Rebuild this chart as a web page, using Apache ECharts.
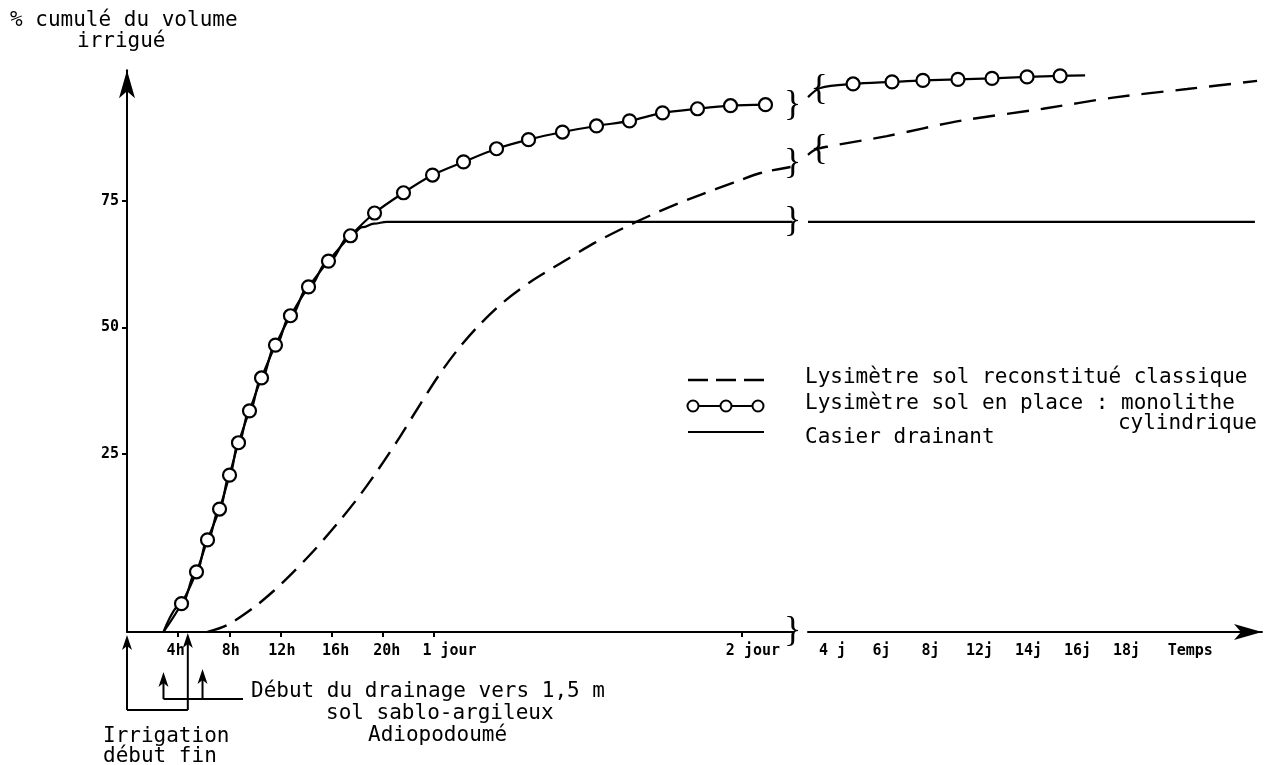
<!DOCTYPE html>
<html><head><meta charset="utf-8">
<script src="https://cdn.jsdelivr.net/npm/echarts@6/dist/echarts.min.js"></script>
<style>html,body{margin:0;padding:0;background:#fff}#c{width:1273px;height:765px}</style>
</head><body><div id="c"></div>
<script>
// ---------- axis ticks / labels ----------
const yTickValues = [25, 50, 75];
const yTickLabels = ['25', '50', '75'];
const hourTicks = [4, 8, 12, 16, 20, 24, 48];
const hourLabelPos = [3.8, 8.1, 12.1, 16.3, 20.3, 25.2, 48.9];
const hourLabels = ['4h', '8h', '12h', '16h', '20h', '1 jour', '2 jour'];
const dayLabelPos = [4, 6, 8, 10, 12, 14, 16, 18.6];
const dayLabels = ['4 j', '6j', '8j', '12j', '14j', '16j', '18j', 'Temps'];

// ---------- Lysimètre sol en place : monolithe cylindrique (circles) ----------
const circleStartLeft = [2.85, -10.2];
const circleHours = [4.26, 5.43, 6.29, 7.23, 8.01, 8.71, 9.57, 10.51, 11.60, 12.77, 14.18, 15.74, 17.46, 19.34, 21.60, 23.87, 26.29, 28.87, 31.37, 34.02, 36.68, 39.26, 41.84, 44.57, 47.15, 49.88];
const circleValues = [-4.6, 1.7, 8.0, 14.1, 20.8, 27.2, 33.5, 40.0, 46.5, 52.3, 58.0, 63.1, 68.1, 72.6, 76.6, 80.1, 82.7, 85.3, 87.1, 88.6, 89.8, 90.8, 92.4, 93.2, 93.8, 94.0];
const circleLineRightStartDays = [3.0, 3.5];
const circleLineRightStartValues = [95.5, 97.3];
const circleDays = [4.84, 6.43, 7.69, 9.12, 10.51, 11.94, 13.29];
const circleDayValues = [98.1, 98.5, 98.8, 99.0, 99.2, 99.5, 99.7];
const circleLineRightEnd = [14.31, 99.8];

// ---------- Lysimètre sol reconstitué classique (dashed) ----------
const dashedHours = [6.29, 7.85, 9.88, 11.45, 13.01, 14.57, 16.45, 18.01, 19.57, 21.13, 22.93, 24.49, 25.90, 27.38, 29.41, 31.76, 34.10, 36.45, 39.57, 42.23, 44.80, 47.38, 49.49, 51.84];
const dashedValues = [-10.2, -8.8, -5.4, -2.1, 1.7, 5.8, 11.3, 16.2, 21.7, 27.6, 34.9, 41.0, 45.8, 50.1, 55.0, 59.4, 63.0, 66.6, 70.6, 73.6, 76.2, 78.6, 80.5, 81.7];
const dashedDays = [3.0, 3.29, 3.78, 6.22, 9.2, 12.59, 15.45, 18.47, 21.33];
const dashedDayValues = [84.1, 85.1, 85.7, 87.8, 90.8, 93.2, 95.4, 97.1, 98.7];

// ---------- Casier drainant (solid) ----------
const solidHours = [2.85, 4.26, 5.43, 6.29, 7.23, 8.01, 8.71, 9.57, 10.51, 11.60, 12.77, 14.18, 15.74, 17.46, 18.4, 19.3, 20.3, 52];
const solidValues = [-10.2, -4.6, 1.7, 8.0, 14.1, 20.8, 27.2, 33.5, 40.0, 46.5, 52.3, 58.0, 63.1, 68.1, 69.8, 70.5, 70.85, 70.85];
const solidDays = [3.0, 21.24];
const solidDayValues = [70.85, 70.85];

// ---------- axis break marks ----------
const breakHour = 52;
const breakLeftValues = { axis: -10.2, solid: 70.85, dashed: 82.3, circle: 93.8 };
const breakRightDays = { axis: 2.93, solid: 2.93, dashed: 3.45, circle: 3.45 };
const breakRightValues = { axis: -10.2, solid: 70.85, dashed: 85.1, circle: 96.9 };

// ---------- annotations ----------
const irrigationHours = [0, 4.75];
const drainageHours = [2.85, 5.9];

const zip = (a, b) => a.map((v, i) => [v, b[i]]);
const MONO = '"DejaVu Sans Mono"';
const tickFont = { fontFamily: MONO, fontWeight: 'bold', fontSize: 15, color: '#000' };

function pickLabel(pos, labels) {
  return function (v) {
    for (let i = 0; i < pos.length; i++) if (Math.abs(pos[i] - v) < 1e-6) return labels[i];
    return '';
  };
}
function brace(ch, coord) {
  return {
    coord: coord, symbol: 'circle', symbolSize: 1,
    itemStyle: { color: 'rgba(0,0,0,0)' },
    label: { show: true, position: 'inside', formatter: ch, color: '#000', fontSize: 36, fontFamily: '"Liberation Serif"' }
  };
}
function bracesMP(items) {
  return { silent: true, symbol: 'circle', symbolSize: 1, data: items, animation: false };
}

const YMIN = -10.2, YMAX = 100.8;
const option = {
  animation: false,
  backgroundColor: '#fff',
  grid: [
    { left: 127, top: 70.3, width: 665.6, height: 561.7 },
    { left: 808, top: 70.3, width: 454, height: 561.7 }
  ],
  xAxis: [
    {
      type: 'value', gridIndex: 0, min: 0, max: 52,
      axisLine: { show: true, onZero: false, lineStyle: { color: '#000', width: 2 } },
      axisTick: { show: true, inside: false, length: 5, customValues: hourTicks, lineStyle: { color: '#000', width: 2 } },
      axisLabel: Object.assign({ customValues: hourLabelPos, margin: 12, formatter: pickLabel(hourLabelPos, hourLabels) }, tickFont),
      splitLine: { show: false }
    },
    {
      type: 'value', gridIndex: 1, min: 3, max: 21.53,
      axisLine: { show: true, onZero: false, symbol: ['none', 'arrow'], symbolSize: [12, 28], symbolOffset: [0, 0], lineStyle: { color: '#000', width: 2 } },
      axisTick: { show: false },
      axisLabel: Object.assign({ customValues: dayLabelPos, margin: 12, formatter: pickLabel(dayLabelPos, dayLabels) }, tickFont),
      splitLine: { show: false }
    }
  ],
  yAxis: [
    {
      type: 'value', gridIndex: 0, min: YMIN, max: YMAX,
      axisLine: { show: true, onZero: false, symbol: ['none', 'arrow'], symbolSize: [12, 28], symbolOffset: [0, 0], lineStyle: { color: '#000', width: 2 } },
      axisTick: { show: true, inside: false, length: 5, customValues: yTickValues, lineStyle: { color: '#000', width: 2 } },
      axisLabel: Object.assign({ customValues: yTickValues, margin: 8, formatter: pickLabel(yTickValues, yTickLabels) }, tickFont),
      splitLine: { show: false }
    },
    {
      type: 'value', gridIndex: 1, min: YMIN, max: YMAX, show: false,
      splitLine: { show: false }
    }
  ],
  series: [
    {
      name: 'Lysimètre sol reconstitué classique', type: 'line', xAxisIndex: 0, yAxisIndex: 0,
      data: zip(dashedHours, dashedValues), showSymbol: false, smooth: 0.3, clip: false,
      lineStyle: { color: '#000', width: 2.4, type: [20, 10] },
      markPoint: bracesMP([brace('}', [breakHour, breakLeftValues.dashed])])
    },
    {
      name: 'Lysimètre sol reconstitué classique (suite)', type: 'line', xAxisIndex: 1, yAxisIndex: 1,
      data: zip(dashedDays, dashedDayValues), showSymbol: false, smooth: 0.3, clip: false,
      lineStyle: { color: '#000', width: 2.4, type: [22, 12] },
      markPoint: bracesMP([brace('{', [breakRightDays.dashed, breakRightValues.dashed])])
    },
    {
      name: 'Casier drainant', type: 'line', xAxisIndex: 0, yAxisIndex: 0,
      data: zip(solidHours, solidValues), showSymbol: false, smooth: 0.4, smoothMonotone: 'x', clip: false,
      lineStyle: { color: '#000', width: 2.2 },
      markPoint: bracesMP([brace('}', [breakHour, breakLeftValues.solid]), brace('}', [breakHour, breakLeftValues.axis])])
    },
    {
      name: 'Casier drainant (suite)', type: 'line', xAxisIndex: 1, yAxisIndex: 1,
      data: zip(solidDays, solidDayValues), showSymbol: false, clip: false,
      lineStyle: { color: '#000', width: 2.2 },
      markPoint: bracesMP([brace('{', [breakRightDays.solid, breakRightValues.solid]), brace('{', [breakRightDays.axis, breakRightValues.axis])])
    },
    {
      name: 'Lysimètre sol en place : monolithe cylindrique', type: 'line', xAxisIndex: 0, yAxisIndex: 0,
      data: [circleStartLeft].concat(zip(circleHours, circleValues)), showSymbol: false, smooth: 0.3, clip: false,
      lineStyle: { color: '#000', width: 2.2 },
      markPoint: bracesMP([brace('}', [breakHour, breakLeftValues.circle])])
    },
    {
      name: 'monolithe (points)', type: 'scatter', xAxisIndex: 0, yAxisIndex: 0, z: 5,
      data: zip(circleHours, circleValues), symbol: 'circle', symbolSize: 13, clip: false,
      itemStyle: { color: '#fff', borderColor: '#000', borderWidth: 2.2, opacity: 1 }
    },
    {
      name: 'monolithe (suite)', type: 'line', xAxisIndex: 1, yAxisIndex: 1,
      data: zip(circleLineRightStartDays, circleLineRightStartValues).concat(zip(circleDays, circleDayValues), [circleLineRightEnd]),
      showSymbol: false, smooth: 0.3, clip: false,
      lineStyle: { color: '#000', width: 2.2 },
      markPoint: bracesMP([brace('{', [breakRightDays.circle, breakRightValues.circle])])
    },
    {
      name: 'monolithe (suite, points)', type: 'scatter', xAxisIndex: 1, yAxisIndex: 1, z: 5,
      data: zip(circleDays, circleDayValues), symbol: 'circle', symbolSize: 13, clip: false,
      itemStyle: { color: '#fff', borderColor: '#000', borderWidth: 2.2, opacity: 1 }
    }
  ]
};

const chart = echarts.init(document.getElementById('c'), null, { renderer: 'canvas' });
chart.setOption(option);

// ---------- graphic: titles, legend, annotations ----------
const px = h => chart.convertToPixel({ xAxisIndex: 0 }, h);
const axisY = chart.convertToPixel({ yAxisIndex: 0 }, YMIN);
const T = (text, x, y, extra) => ({ type: 'text', silent: true, style: Object.assign({ text: text, x: x, y: y, font: '21px ' + MONO, fill: '#000', verticalAlign: 'middle', align: 'left' }, extra || {}) });
const L = (x1, y1, x2, y2, extra) => ({ type: 'line', silent: true, shape: { x1, y1, x2, y2 }, style: Object.assign({ stroke: '#000', lineWidth: 2 }, extra || {}) });
const head = (x, tipY) => ({ type: 'polygon', silent: true, shape: { points: [[x, tipY], [x - 5, tipY + 15], [x, tipY + 11], [x + 5, tipY + 15]] }, style: { fill: '#000' } });

const xi0 = px(irrigationHours[0]), xi1 = px(irrigationHours[1]);
const xd0 = px(drainageHours[0]), xd1 = px(drainageHours[1]);
const g = [
  T('% cumulé du volume', 10, 21),
  T('irrigué', 77, 42),
  // legend
  L(688, 380, 764, 380, { lineDash: [20, 8], lineWidth: 2.4 }),
  L(693, 406, 758, 406),
  { type: 'circle', silent: true, shape: { cx: 693, cy: 406, r: 5.5 }, style: { fill: '#fff', stroke: '#000', lineWidth: 2 } },
  { type: 'circle', silent: true, shape: { cx: 726, cy: 406, r: 5.5 }, style: { fill: '#fff', stroke: '#000', lineWidth: 2 } },
  { type: 'circle', silent: true, shape: { cx: 758, cy: 406, r: 5.5 }, style: { fill: '#fff', stroke: '#000', lineWidth: 2 } },
  L(688, 432, 764, 432),
  T('Lysimètre sol reconstitué classique', 805, 378),
  T('Lysimètre sol en place : monolithe', 805, 404),
  T('cylindrique', 1257, 424, { align: 'right' }),
  T('Casier drainant', 805, 438),
  // irrigation bracket
  L(xi0, 710, xi0, axisY + 8),
  L(xi1, 710, xi1, axisY + 8),
  L(xi0, 710, xi1, 710),
  head(xi0, axisY + 3),
  head(xi1, axisY + 1),
  // drainage start
  L(xd0, 699, xd0, 682),
  L(xd1, 699, xd1, 679),
  L(xd0, 699, 243, 699),
  head(xd0, 672),
  head(xd1, 669),
  T('Début du drainage vers 1,5 m', 251, 692),
  T('sol sablo-argileux', 326, 714),
  T('Adiopodoumé', 368, 736),
  T('Irrigation', 103, 737),
  T('début fin', 103, 757)
];
chart.setOption({ graphic: g });
</script>
</body></html>
